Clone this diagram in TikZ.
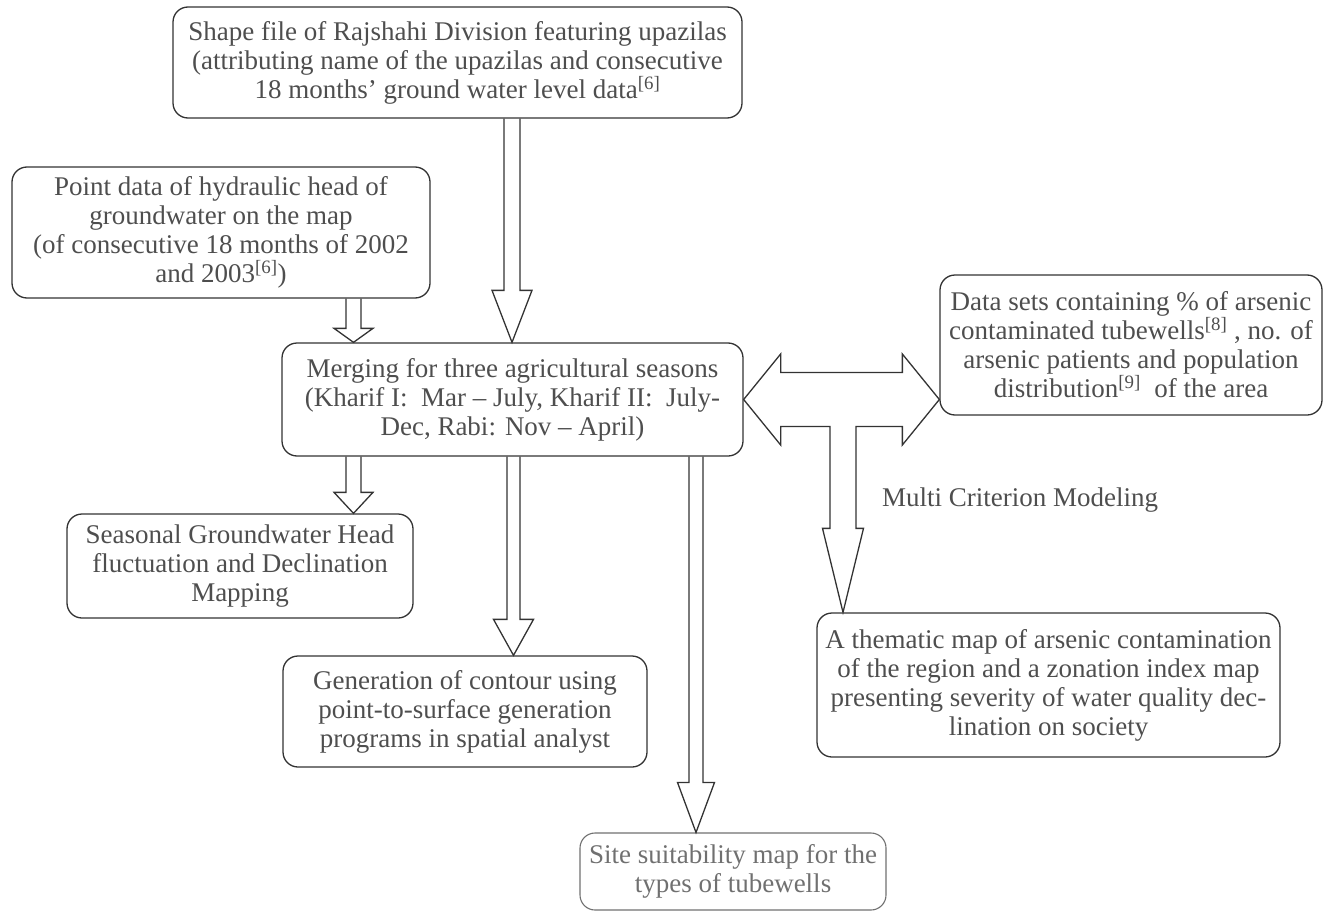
\documentclass[tikz,border=0pt]{standalone}
\usepackage{fontspec}
\setmainfont{Liberation Serif}
\usetikzlibrary{calc}
\definecolor{linecol}{HTML}{333333}
\definecolor{txtcol}{HTML}{4E4E4E}
\definecolor{lightcol}{HTML}{707070}
\newcommand\blkarrow[5]{% #1 from, #2 tip, #3 half shaft, #4 half head, #5 head length
  \draw[blk] let \p1=(#1), \p2=(#2) in
    (\x1-#3,\y1) -- (\x1-#3,\y2+#5) -- (\x1-#4,\y2+#5) -- (\x2,\y2)
    -- (\x1+#4,\y2+#5) -- (\x1+#3,\y2+#5) -- (\x1+#3,\y1);}
\begin{document}
\begin{tikzpicture}[x=1pt,y=-1pt,
  box/.style={draw=linecol, line width=1.3pt, rounded corners=15pt, align=center,
    text=txtcol, inner sep=0pt, font=\fontsize{27}{29}\selectfont},
  blk/.style={draw=linecol, line width=1.3pt, line join=miter},
  lbl/.style={text=txtcol, inner sep=0pt, font=\fontsize{27}{29}\selectfont}
]
\useasboundingbox (0,0) rectangle (1332,912);

\node[box, minimum width=569pt, minimum height=111pt] (shapefile) at (457.5,62.5)
  {Shape file of Rajshahi Division featuring upazilas\\
   (attributing name of the upazilas and consecutive\\
   18 months’ ground water level data\textsuperscript{[6]}};

\node[box, minimum width=418pt, minimum height=131pt] (pointdata) at (221,232.5)
  {Point data of hydraulic head of\\
   groundwater on the map\\
   (of consecutive 18 months of 2002\\
   and 2003\textsuperscript{[6]})};

\node[box, minimum width=461pt, minimum height=113pt] (merging) at (512.5,399.5)
  {Merging for three agricultural seasons\\
   (Kharif I:\ \ Mar – July, Kharif II:\ \ July-\\
   Dec, Rabi: Nov – April)};

\node[box, minimum width=382pt, minimum height=140pt] (datasets) at (1131,345)
  {Data sets containing \% of arsenic\\
   contaminated tubewells\textsuperscript{[8]} , no. of\\
   arsenic patients and population\\
   distribution\textsuperscript{[9]}\ \ of the area};

\node[box, minimum width=346pt, minimum height=104pt] (seasonal) at (240,566)
  {Seasonal Groundwater Head\\
   fluctuation and Declination\\
   Mapping};

\node[box, minimum width=364pt, minimum height=111pt] (contour) at (465,711.5)
  {Generation of contour using\\
   point-to-surface generation\\
   programs in spatial analyst};

\node[box, draw=lightcol, text=lightcol, line width=1.1pt, minimum width=306pt, minimum height=77pt] (site) at (733,871.5)
  {Site suitability map for the\\
   types of tubewells};

\node[box, minimum width=463pt, minimum height=144pt] (thematic) at (1048.5,685)
  {A thematic map of arsenic contamination\\
   of the region and a zonation index map\\
   presenting severity of water quality dec-\\
   lination on society};

\node[lbl] (mcm) at (1020,500) {Multi Criterion Modeling};

% x positions of the block arrows
\coordinate (c1) at (512,0);
\coordinate (c2) at (353.5,0);
\coordinate (c3) at (513.5,0);
\coordinate (c4) at (696,0);
\coordinate (c5) at (843,0);

\blkarrow{shapefile.south -| c1}{merging.north -| c1}{8pt}{20pt}{52pt}
\blkarrow{pointdata.south -| c2}{merging.north -| c2}{7.5pt}{19.5pt}{14pt}
\blkarrow{merging.south -| c2}{seasonal.north -| c2}{7.5pt}{19.5pt}{21pt}
\blkarrow{merging.south -| c3}{contour.north -| c3}{6.5pt}{20pt}{36pt}
\blkarrow{merging.south -| c4}{site.north -| c4}{7pt}{18.5pt}{50pt}

% T-shaped double arrow with a downward branch
\draw[blk] let \p1=(merging.east), \p2=(datasets.west |- merging.east), \p3=(thematic.north -| c5) in
  (\x1,\y1) -- (\x1+37pt,\y1+45.5pt) -- (\x1+37pt,\y1+27pt) -- (\x2-37pt,\y1+27pt)
  -- (\x2-37pt,\y1+45.5pt) -- (\x2,\y1) -- (\x2-37pt,\y1-45.5pt) -- (\x2-37pt,\y1-27pt)
  -- (\x3+13pt,\y1-27pt) -- (\x3+13pt,\y3+84pt) -- (\x3+20.5pt,\y3+84pt) -- (\x3,\y3)
  -- (\x3-20.5pt,\y3+84pt) -- (\x3-13pt,\y3+84pt) -- (\x3-13pt,\y1-27pt)
  -- (\x1+37pt,\y1-27pt) -- (\x1+37pt,\y1-45.5pt) -- cycle;
\end{tikzpicture}
\end{document}
